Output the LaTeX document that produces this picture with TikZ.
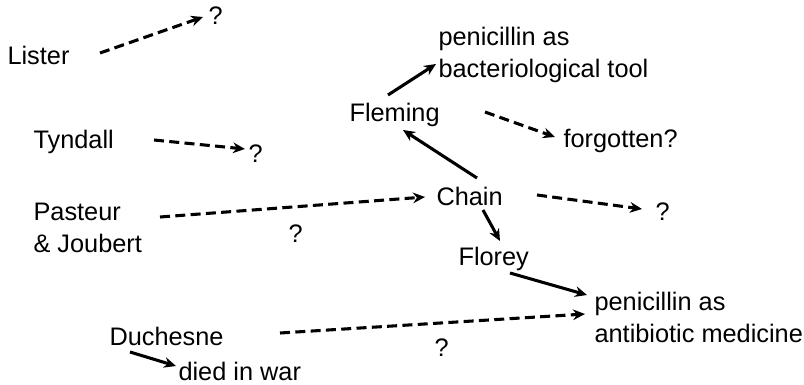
\documentclass[tikz,border=0pt]{standalone}
\usepackage{fontspec}
\setmainfont{Liberation Sans}
\usepackage{tikz}
\usetikzlibrary{arrows.meta}
\tikzset{txt/.style={inner sep=0pt,anchor=base west,align=left,
                     font=\fontsize{19}{24}\selectfont}}
\def\tip{{Stealth[length=9pt,width=8pt]}}

\begin{document}
\begin{tikzpicture}[x=0.75pt,y=-0.75pt,line width=2.3pt,draw=black]
    \tikzstyle{flow}=[-\tip]
    \tikzstyle{guess}=[-\tip,dash pattern=on 7.5pt off 4pt]
    \useasboundingbox (0,0) rectangle (804,385);

    % People
    \node[txt] (lister) at (6,65) {Lister};
    \node[txt] (tyndall) at (32,148) {Tyndall};
    \node[txt] (pasteur) at (32,252) {Pasteur\\\& Joubert};
    \node[txt] (duchesne) at (108,345) {Duchesne};
    \node[txt] (fleming) at (348,122) {Fleming};
    \node[txt] (chain) at (435,205) {Chain};
    \node[txt] (florey) at (457,265) {Florey};

    % Outcomes
    \node[txt] (q-lister) at (207,25) {?};
    \node[txt] (q-tyndall) at (247,162) {?};
    \node[txt] (q-pasteur) at (287,242) {?};
    \node[txt] (q-chain) at (654,220) {?};
    \node[txt] (q-duchesne) at (433,356) {?};
    \node[txt] (died) at (177,380) {died in war};
    \node[txt] (forgotten) at (562,147) {forgotten?};
    \node[txt] (tool) at (437,78) {penicillin as\\bacteriological tool};
    \node[txt] (medicine) at (593,342) {penicillin as\\antibiotic medicine};

    % Uncertain links
    \draw[guess] ([shift={(94,-12)}]lister.base west) -- ([shift={(-4,-8)}]q-lister.base west);
    \draw[guess] ([shift={(122,-8)}]tyndall.base west) -- ([shift={(-2,-13)}]q-tyndall.base west);
    \draw[guess] ([shift={(128,-35)}]pasteur.base west) -- ([shift={(-10,-8)}]chain.base west);
    \draw[guess] ([shift={(102,-10)}]chain.base west) -- ([shift={(-12,-11)}]q-chain.base west);
    \draw[guess] ([shift={(137,-10)}]fleming.base west) -- ([shift={(-7,-10)}]forgotten.base west);
    \draw[guess] ([shift={(172,-12)}]duchesne.base west) -- ([shift={(-8,-28)}]medicine.base west);

    % Known links
    \draw[flow] ([shift={(48,5)}]chain.base west) -- ([shift={(43,-24)}]florey.base west);
    \draw[flow] ([shift={(42,-27)}]chain.base west) -- ([shift={(55,8)}]fleming.base west);
    \draw[flow] ([shift={(40,-27)}]fleming.base west) -- ([shift={(-1,-14)}]tool.base west);
    \draw[flow] ([shift={(53,8)}]florey.base west) -- ([shift={(-6,-47)}]medicine.base west);
    \draw[flow] ([shift={(22,7)}]duchesne.base west) -- ([shift={(-1,-14)}]died.base west);
\end{tikzpicture}
\end{document}
